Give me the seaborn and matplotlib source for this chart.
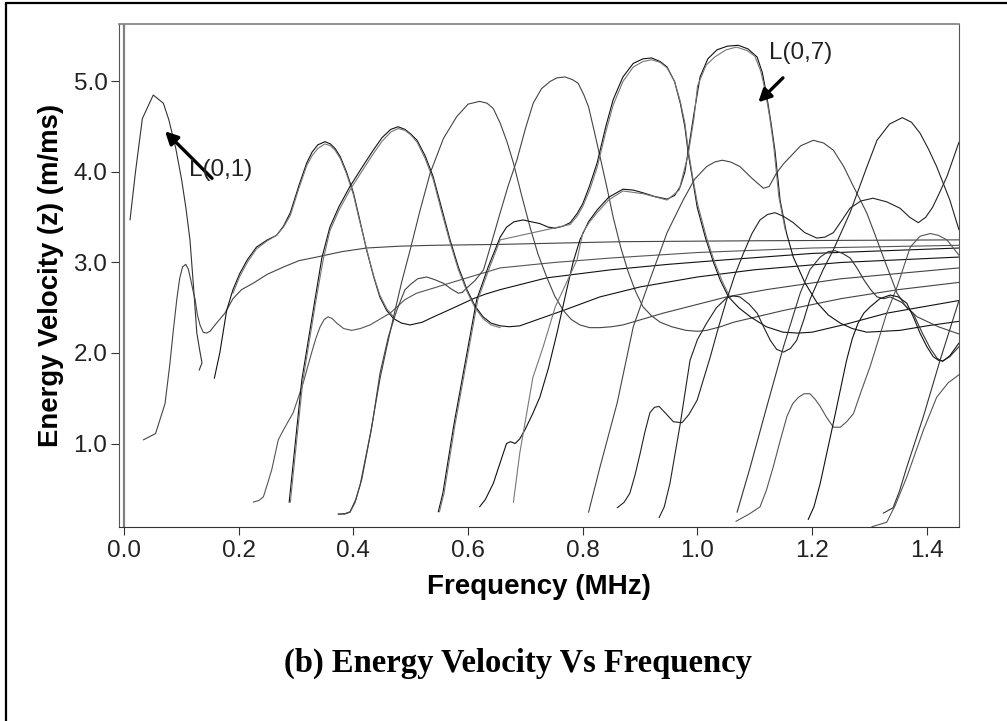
import matplotlib
matplotlib.use("Agg")
import matplotlib.pyplot as plt
from matplotlib.lines import Line2D
import pandas as pd
import seaborn as sns

# mode curves: frequency (MHz), energy velocity (m/ms)
a_f = [.0105, .02, .032, .051, .0686, .078, .09, .1006, .108, .115, .121, .127, .132, .136, .131]
a_v = [3.47, 4.0, 4.59, 4.85, 4.76, 4.58, 4.27, 3.91, 3.6, 3.25, 2.75, 2.22, 2.03, 1.89, 1.81]

b_f = [.0337, .055, .0715, .08, .086, .092, .097, .102, .1076, .112, .116, .12, .124, .128, .1325, .138, .144, .15, .16, .176, .19, .205, .225, .25, .278, .305, .336, .38, .423, .48, .54, .656, .87, 1.1, 1.456]
b_v = [1.04, 1.11, 1.44, 1.88, 2.25, 2.59, 2.82, 2.95, 2.98, 2.93, 2.82, 2.7, 2.59, 2.42, 2.31, 2.23, 2.22, 2.24, 2.32, 2.44, 2.6, 2.7, 2.77, 2.87, 2.95, 3.02, 3.06, 3.12, 3.16, 3.18, 3.19, 3.2, 3.23, 3.24, 3.25]

c_f = [.1575, .167, .179, .19, .202, .215, .231, .25, .266, .278, .29, .305, .3186, .328, .338, .3505, .36, .368, .377, .388, .4, .41, .423, .435, .446, .458, .47, .484, .4988, .52, .54, .575, .609, .63, .656, .737, .85, .95, 1.05, 1.2, 1.456]
c_v = [1.72, 2.0, 2.47, 2.7, 2.88, 3.03, 3.17, 3.25, 3.3, 3.4, 3.55, 3.85, 4.1, 4.22, 4.3, 4.335, 4.31, 4.26, 4.17, 4.0, 3.77, 3.5, 3.14, 2.85, 2.62, 2.47, 2.38, 2.33, 2.31, 2.34, 2.4, 2.5, 2.6, 2.65, 2.7, 2.83, 2.92, 2.98, 3.03, 3.1, 3.16]

c2_f = [.19, .202, .215, .231, .25, .266, .278, .29, .305, .3186, .328, .338, .3505, .36, .368, .377, .388, .4, .41, .423, .435, .446, .458, .47]
c2_v = [2.66, 2.85, 3.0, 3.15, 3.24, 3.3, 3.39, 3.52, 3.82, 4.07, 4.18, 4.26, 4.31, 4.29, 4.24, 4.15, 3.98, 3.75, 3.48, 3.15, 2.86, 2.64, 2.49, 2.4]

d_f = [.2255, .235, .243, .25, .2576, .269, .278, .295, .3125, .327, .335, .342, .349, .356, .363, .371, .383, .397, .412, .429, .464, .49, .51, .598, .656, .75, .85, 1.0, 1.2, 1.456]
d_v = [.353, .37, .41, .55, .71, 1.04, 1.15, 1.34, 1.67, 2.0, 2.17, 2.29, 2.37, 2.4, 2.38, 2.33, 2.27, 2.25, 2.27, 2.31, 2.44, 2.59, 2.66, 2.83, 2.94, 3.0, 3.05, 3.11, 3.16, 3.19]

e_f = [.3735, .385, .394, .404, .4145, .432, .4465, .461, .4755, .49, .5, .512, .528, .542, .557, .57, .583, .59, .598, .612, .627, .64, .656, .67, .685, .7, .7135, .728, .743, .755, .769, .782, .792, .802, .81, .82, .83, .842, .853, .866, .879, .892, .905, .92, .935, .955, .98, 1.0, 1.016, 1.04, 1.063, 1.15, 1.25, 1.35, 1.456]
e_v = [.22, .225, .245, .38, .6, 1.18, 1.78, 2.18, 2.47, 2.7, 2.76, 2.82, 2.84, 2.81, 2.77, 2.71, 2.66, 2.67, 2.72, 2.8, 2.92, 3.2, 3.55, 3.85, 4.13, 4.48, 4.76, 4.92, 5.0, 5.04, 5.05, 5.02, 4.98, 4.85, 4.72, 4.45, 4.17, 3.83, 3.5, 3.17, 2.9, 2.68, 2.51, 2.41, 2.34, 2.29, 2.25, 2.24, 2.25, 2.29, 2.34, 2.47, 2.6, 2.7, 2.78]

f_f = [.288, .31, .333, .345, .359, .375, .394, .415, .4345, .45, .465, .478, .49, .5, .511, .525, .539, .553, .5685, .583, .598, .612, .626, .64, .656, .672, .69, .766, .83, .9, 1.0, 1.1, 1.25, 1.456]
f_v = [.35, 1.7, 2.59, 3.05, 3.39, 3.62, 3.84, 4.05, 4.24, 4.38, 4.47, 4.5, 4.47, 4.42, 4.35, 4.18, 3.95, 3.62, 3.25, 2.95, 2.7, 2.52, 2.4, 2.33, 2.3, 2.29, 2.3, 2.47, 2.62, 2.73, 2.84, 2.92, 3.0, 3.06]

f2_f = [.29, .312, .335, .347, .359, .375, .394, .415, .4345, .45, .465, .478, .49, .5, .511, .525, .539, .553, .5685, .583, .598, .612, .626, .64, .656]
f2_v = [.35, 1.7, 2.59, 3.02, 3.35, 3.58, 3.8, 4.01, 4.2, 4.34, 4.44, 4.48, 4.46, 4.41, 4.33, 4.15, 3.92, 3.58, 3.22, 2.92, 2.68, 2.5, 2.38, 2.31, 2.28]

x_f = [.3735, .385, .394, .403, .412, .43, .4465, .458, .47, .484, .499, .516, .534, .557, .58, .6, .62, .633, .644, .656, .668, .679, .693, .708, .722, .737, .751, .766, .78, .795, .812, .83, .85, .87, .94, 1.051, 1.12, 1.25, 1.456]
x_v = [.22, .22, .24, .35, .55, 1.12, 1.72, 2.06, 2.4, 2.78, 3.14, 3.57, 3.99, 4.37, 4.61, 4.75, 4.78, 4.76, 4.7, 4.54, 4.33, 4.1, 3.75, 3.39, 3.09, 2.84, 2.63, 2.47, 2.37, 2.31, 2.28, 2.28, 2.29, 2.31, 2.44, 2.62, 2.7, 2.82, 2.94]

g_f = [.548, .556, .575, .598, .615, .635, .656, .667, .68, .696, .71, .725, .74, .752, .765, .778, .79, .8, .812, .825, .84, .853, .87, .888, .905, .92, .935, .947, .96, .97, .978, .984, .992, .9995, 1.014, 1.028, 1.04, 1.054, 1.072, 1.092, 1.12, 1.149, 1.175, 1.2, 1.26, 1.33, 1.456]
g_v = [.245, .45, 1.2, 2.0, 2.59, 2.95, 3.28, 3.39, 3.45, 3.47, 3.45, 3.43, 3.39, 3.38, 3.4, 3.44, 3.54, 3.65, 3.85, 4.1, 4.5, 4.8, 5.05, 5.2, 5.25, 5.26, 5.22, 5.16, 5.0, 4.76, 4.5, 4.2, 3.9, 3.61, 3.27, 3.0, 2.8, 2.62, 2.5, 2.4, 2.29, 2.23, 2.22, 2.23, 2.32, 2.44, 2.58]

g2_f = [.55, .558, .577, .6, .617, .636, .656, .778, .79, .8, .812, .825, .84, .853, .87, .888, .905, .92, .935, .947, .96, .97, .978, .984, .992, 1.0, 1.016, 1.03, 1.044, 1.058]
g2_v = [.245, .45, 1.2, 2.0, 2.59, 2.92, 3.25, 3.42, 3.51, 3.62, 3.8, 4.05, 4.44, 4.74, 5.0, 5.16, 5.22, 5.24, 5.21, 5.15, 5.0, 4.78, 4.54, 4.24, 3.93, 3.65, 3.27, 3.0, 2.78, 2.6]

h_f = [.62, .63, .644, .656, .667, .674, .682, .69, .699, .712, .725, .74, .755, .772, .783, .795, .81, .825, .845, .87, .888, .905, .925, .947, .96, .97, .978, .984, .994, 1.0045, 1.018, 1.034, 1.052, 1.071, 1.088, 1.104, 1.113, 1.12, 1.128, 1.135, 1.144, 1.155, 1.167, 1.187, 1.208, 1.228, 1.249, 1.27, 1.295, 1.353, 1.4, 1.456]
h_v = [.3, .38, .56, .79, 1.0, 1.02, 1.0, 1.05, 1.15, 1.32, 1.51, 1.83, 2.22, 2.7, 3.0, 3.25, 3.45, 3.58, 3.72, 3.81, 3.8, 3.77, 3.73, 3.7, 3.74, 3.84, 4.0, 4.24, 4.65, 5.05, 5.25, 5.35, 5.39, 5.4, 5.36, 5.27, 5.1, 4.87, 4.55, 4.24, 3.69, 3.33, 3.06, 2.78, 2.56, 2.42, 2.33, 2.27, 2.23, 2.25, 2.3, 2.35]

i_f = [.679, .69, .713, .731, .752, .79, .8, .812, .825, .845, .87, .905, .947, .968, .984, .994, 1.0, 1.015, 1.03, 1.05, 1.068, 1.087, 1.1, 1.11, 1.118, 1.126, 1.133, 1.142, 1.153]
i_v = [.35, .89, 1.73, 2.07, 2.51, 3.03, 3.33, 3.45, 3.55, 3.69, 3.79, 3.76, 3.69, 3.8, 4.2, 4.6, 4.95, 5.18, 5.27, 5.35, 5.38, 5.34, 5.28, 5.12, 4.9, 4.6, 4.28, 3.72, 3.36]

k_f = [.81, .83, .86, .888, .917, .947, .975, .995, 1.016, 1.03, 1.043, 1.058, 1.074, 1.095, 1.115, 1.125, 1.138, 1.15, 1.162, 1.18, 1.202, 1.22, 1.237, 1.255, 1.272, 1.295, 1.31, 1.324, 1.348, 1.365, 1.383, 1.42, 1.456]
k_v = [.24, .74, 1.45, 2.29, 2.81, 3.33, 3.69, 3.92, 4.06, 4.11, 4.13, 4.11, 4.06, 3.93, 3.82, 3.84, 3.99, 4.09, 4.17, 4.29, 4.35, 4.32, 4.24, 4.06, 3.84, 3.55, 3.3, 3.06, 2.66, 2.5, 2.4, 2.29, 2.21]

l_f = [.86, .872, .882, .891, .9, .908, .917, .925, .933, .945, .958, .973, .985, .9995, 1.01, 1.022, 1.036, 1.051, 1.065, 1.08, 1.095, 1.109, 1.122, 1.135, 1.15, 1.167, 1.187, 1.208, 1.222, 1.237, 1.25, 1.266, 1.285, 1.306, 1.33, 1.353, 1.37, 1.385, 1.398, 1.41, 1.422, 1.435, 1.456]
l_v = [.29, .35, .45, .65, .89, 1.12, 1.34, 1.4, 1.41, 1.33, 1.24, 1.23, 1.32, 1.48, 1.7, 1.95, 2.27, 2.59, 2.86, 3.1, 3.32, 3.47, 3.53, 3.55, 3.51, 3.44, 3.33, 3.27, 3.28, 3.33, 3.45, 3.6, 3.68, 3.71, 3.67, 3.6, 3.5, 3.44, 3.5, 3.61, 3.77, 3.95, 4.33]

m_f = [.933, .942, .952, .97, .987, 1.0, 1.016, 1.033, 1.051, 1.062, 1.074, 1.09, 1.104, 1.116, 1.127, 1.138, 1.15, 1.162, 1.173, 1.185, 1.196, 1.219, 1.237, 1.266, 1.295, 1.313, 1.335, 1.357, 1.373, 1.388, 1.403, 1.417, 1.44, 1.456]
m_v = [.18, .3, .56, 1.22, 1.92, 2.15, 2.33, 2.5, 2.61, 2.63, 2.62, 2.54, 2.44, 2.28, 2.14, 2.04, 2.01, 2.05, 2.14, 2.36, 2.59, 2.92, 3.14, 3.55, 4.05, 4.35, 4.53, 4.6, 4.55, 4.43, 4.25, 4.06, 3.69, 3.36]

o_f = [1.069, 1.092, 1.121, 1.15, 1.179, 1.196, 1.214, 1.228, 1.24, 1.253, 1.266, 1.278, 1.29, 1.302, 1.313, 1.325, 1.336, 1.356, 1.376, 1.392, 1.406, 1.418, 1.427, 1.44, 1.456]
o_v = [.24, .74, 1.41, 2.07, 2.66, 2.92, 3.06, 3.12, 3.13, 3.1, 3.05, 2.94, 2.81, 2.7, 2.62, 2.6, 2.62, 2.56, 2.44, 2.22, 2.05, 1.94, 1.91, 1.96, 2.07]

p_f = [1.067, 1.09, 1.109, 1.12, 1.132, 1.145, 1.156, 1.166, 1.176, 1.186, 1.196, 1.205, 1.214, 1.225, 1.237, 1.249, 1.26, 1.272, 1.285, 1.301, 1.33, 1.348, 1.371, 1.388, 1.406, 1.42, 1.435, 1.456]
p_v = [.14, .22, .3, .48, .74, 1.05, 1.3, 1.44, 1.51, 1.55, 1.55, 1.49, 1.41, 1.29, 1.18, 1.18, 1.24, 1.33, 1.57, 1.85, 2.44, 2.73, 3.17, 3.29, 3.32, 3.3, 3.25, 3.08]

q_f = [1.193, 1.203, 1.214, 1.237, 1.26, 1.27, 1.28, 1.29, 1.301, 1.318, 1.336, 1.35, 1.365, 1.377, 1.388, 1.4, 1.411, 1.42, 1.428, 1.44, 1.456]
q_v = [.16, .3, .56, 1.23, 1.92, 2.16, 2.33, 2.44, 2.51, 2.6, 2.64, 2.62, 2.55, 2.39, 2.22, 2.07, 1.96, 1.92, 1.91, 1.97, 2.11]

r_f = [1.304, 1.33, 1.345, 1.365, 1.394, 1.417, 1.437, 1.456]
r_v = [.08, .13, .32, .63, 1.15, 1.51, 1.67, 1.76]

s_f = [1.324, 1.341, 1.352, 1.365, 1.394, 1.423, 1.456]
s_v = [.23, .29, .47, .74, 1.3, 1.92, 2.58]

curves = {
    'a': (a_f, a_v, '#333333'), 'b': (b_f, b_v, '#444444'), 'c': (c_f, c_v, '#111111'),
    'c2': (c2_f, c2_v, '#777777'), 'd': (d_f, d_v, '#555555'), 'e': (e_f, e_v, '#444444'),
    'f': (f_f, f_v, '#111111'), 'f2': (f2_f, f2_v, '#777777'), 'x': (x_f, x_v, '#444444'),
    'g': (g_f, g_v, '#111111'), 'g2': (g2_f, g2_v, '#777777'), 'h': (h_f, h_v, '#111111'),
    'i': (i_f, i_v, '#777777'), 'k': (k_f, k_v, '#444444'), 'l': (l_f, l_v, '#222222'),
    'm': (m_f, m_v, '#222222'), 'o': (o_f, o_v, '#333333'), 'p': (p_f, p_v, '#555555'),
    'q': (q_f, q_v, '#111111'), 'r': (r_f, r_v, '#555555'), 's': (s_f, s_v, '#333333'),
}

rows = []
for name, (fr, vel, col) in curves.items():
    rows += [{'mode': name, 'freq': a, 'vel': b} for a, b in zip(fr, vel)]
df = pd.DataFrame(rows)
palette = {name: c[2] for name, c in curves.items()}

sns.set_style("white")
plt.rcParams['font.family'] = ['Liberation Sans', 'DejaVu Sans']

W, H = 1007, 721
fig = plt.figure(figsize=(W / 100, H / 100), dpi=100)
ax = fig.add_axes([118.5 / W, 1 - 526.5 / H, (959 - 118.5) / W, (526.5 - 24) / H])

sns.lineplot(data=df, x='freq', y='vel', hue='mode', palette=palette, units='mode',
             estimator=None, sort=False, legend=False, linewidth=0.8, ax=ax)

ax.set_xlim(-.0096, 1.456)
ax.set_ylim(.083, 5.635)
ax.axvline(0, color='#808080', linewidth=1.6, zorder=1)
ax.set_xticks([0, .2, .4, .6, .8, 1.0, 1.2, 1.4])
ax.set_yticks([1, 2, 3, 4, 5])
ax.xaxis.set_major_formatter('{x:.1f}')
ax.yaxis.set_major_formatter('{x:.1f}')
ax.tick_params(length=5.5, width=0.8, color='#333333', labelsize=17.5, labelcolor='#222222',
               bottom=True, left=True)
ax.tick_params(axis='x', pad=4.5)
ax.tick_params(axis='y', pad=2.5)
ax.spines['left'].set_color('#555555')
ax.spines['top'].set_color('#808080')
ax.spines['top'].set_linewidth(1.2)
ax.spines['right'].set_color('#555555')
ax.spines['bottom'].set_color('#333333')
ax.set_xlabel("Frequency (MHz)", fontsize=20, fontweight='bold', labelpad=8, color='black')
ax.set_ylabel("Energy Velocity (z) (m/ms)", fontsize=19.8, fontweight='bold', labelpad=7, color='black')

arrow = dict(arrowstyle='-|>,head_width=0.38,head_length=0.75', color='black', linewidth=2.4, shrinkA=0, shrinkB=0)
ax.annotate('', xy=(.0715, 4.45), xytext=(.1535, 3.93), arrowprops=arrow)
ax.annotate('', xy=(1.106, 4.77), xytext=(1.149, 5.04), arrowprops=arrow)
ax.text(.113, 4.02, "L(0,1)", fontsize=17.5, color='#222222', va='center')
ax.text(1.125, 5.32, "L(0,7)", fontsize=17.5, color='#222222', va='center')

fig.text(518 / W, 1 - 663 / H, "(b) Energy Velocity Vs Frequency", family=['Liberation Serif'],
         fontsize=23.5, fontweight='bold', ha='center', va='center', color='black')

# outer box of the page
fig.add_artist(Line2D([6 / W, 6 / W], [0, 1 - 2.5 / H], color='black', linewidth=1.6))
fig.add_artist(Line2D([6 / W, 1], [1 - 2.5 / H, 1 - 2.5 / H], color='black', linewidth=1.6))

fig.savefig("out.png", dpi=100)
